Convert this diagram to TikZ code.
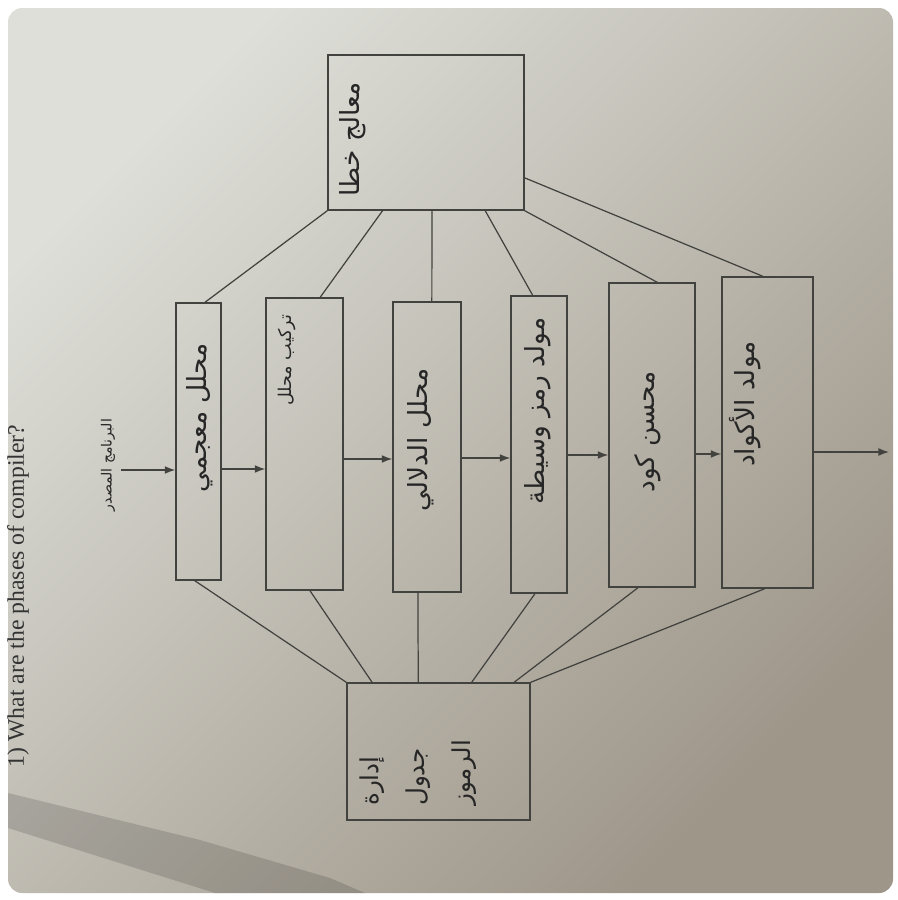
\documentclass[tikz,border=0pt]{standalone}
\usepackage{fontspec}
\setmainfont{Liberation Serif}
\newfontfamily\arabicfont[Script=Arabic]{DejaVu Sans}
\TeXXeTstate=1
\usetikzlibrary{arrows.meta,calc,fit}
\definecolor{paperlight}{RGB}{222,223,217}
\definecolor{paperdark}{RGB}{158,150,137}
\definecolor{ink}{RGB}{66,66,62}
\tikzset{
  phase/.style={draw=ink,line width=0.8pt,inner sep=0pt},
  link/.style={ink,line width=0.7pt},
  arr/.style={ink,line width=0.8pt,-{Latex[length=6pt,width=4.5pt]}},
  ar/.style={text=black!85,rotate=90,font=\arabicfont\fontsize{15}{18}\selectfont}
}
\newcommand{\rtl}[1]{\beginR #1\endR}

\begin{document}
\begin{tikzpicture}[x=0.02cm,y=-0.02cm]
\useasboundingbox (0,0) rectangle (897,900);
\fill[white] (0,0) rectangle (897,900);
\shade[top color=paperlight,bottom color=paperdark,shading angle=45,rounded corners=8pt] (8,8) rectangle (893,893);
\fill[black,opacity=.14] (8,793) -- (200,840) -- (330,878) -- (365,893) -- (215,893) -- (8,828) -- cycle;

\node[rotate=90,font=\fontsize{13.5}{16}\selectfont,text=black!80] (title) at (18,596) {1) What are the phases of compiler?};

% boxes
\node[phase,fit={(328,55) (524,210)}] (err) {};
\node[phase,fit={(176,303) (221,580)}] (lex) {};
\node[phase,fit={(266,298) (343,590)}] (syn) {};
\node[phase,fit={(393,302) (461,592)}] (sem) {};
\node[phase,fit={(511,296) (567,593)}] (inter) {};
\node[phase,fit={(609,283) (695,587)}] (opt) {};
\node[phase,fit={(722,277) (813,588)}] (gen) {};
\node[phase,fit={(347,683) (530,820)}] (sym) {};

% texts
\node[ar] (errT) at (353,139) {\rtl{معالج خطا}};
\node[ar] (lexT) at (200,418) {\rtl{محلل معجمي}};
\node[ar,font=\arabicfont\fontsize{10}{12}\selectfont] (synT) at (287,360) {\rtl{تركيب محلل}};
\node[ar] (semT) at (421,440) {\rtl{محلل الدلالي}};
\node[ar] (interT) at (538,411) {\rtl{مولد رمز وسيطة}};
\node[ar] (optT) at (648,432) {\rtl{محسن كود}};
\node[ar] (genT) at (745,404) {\rtl{مولد الأكواد}};
\node[ar,align=left,font=\arabicfont\fontsize{14}{26}\selectfont] (symT) at (418,773) {\rtl{إدارة}\\ \rtl{جدول}\\ \rtl{الرموز}};
\node[ar,font=\arabicfont\fontsize{8}{10}\selectfont] (src) at (108,465) {\rtl{البرنامج المصدر}};

% error handler links
\draw[link] (err.south west) -- ($(lex.north west)!.64!(lex.north east)$);
\draw[link] ($(err.south west)!.28!(err.south east)$) -- ($(syn.north west)!.70!(syn.north east)$);
\draw[link] ($(err.south west)!.53!(err.south east)$) -- ($(sem.north west)!.57!(sem.north east)$);
\draw[link] ($(err.south west)!.80!(err.south east)$) -- ($(inter.north west)!.39!(inter.north east)$);
\draw[link] (err.south east) -- ($(opt.north west)!.56!(opt.north east)$);
\draw[link] ($(err.south east)!.21!(err.north east)$) -- ($(gen.north west)!.45!(gen.north east)$);

% symbol table links
\draw[link] ($(lex.south west)!.42!(lex.south east)$) -- (sym.north west);
\draw[link] ($(syn.south west)!.57!(syn.south east)$) -- ($(sym.north west)!.14!(sym.north east)$);
\draw[link] ($(sem.south west)!.37!(sem.south east)$) -- ($(sym.north west)!.39!(sym.north east)$);
\draw[link] ($(inter.south west)!.43!(inter.south east)$) -- ($(sym.north west)!.68!(sym.north east)$);
\draw[link] ($(opt.south west)!.34!(opt.south east)$) -- ($(sym.north west)!.91!(sym.north east)$);
\draw[link] ($(gen.south west)!.47!(gen.south east)$) -- (sym.north east);

% flow
\coordinate (lexin) at ($(lex.west)+(0,28.5)$);
\draw[arr] (src.south |- lexin) -- (lexin);
\draw[arr] ($(lex.east)+(0,27.5)$) coordinate (a1) -- (a1 -| syn.west);
\draw[arr] ($(syn.east)+(0,15)$) coordinate (a2) -- (a2 -| sem.west);
\draw[arr] ($(sem.east)+(0,11)$) coordinate (a3) -- (a3 -| inter.west);
\draw[arr] ($(inter.east)+(0,10.5)$) coordinate (a4) -- (a4 -| opt.west);
\draw[arr] ($(opt.east)+(0,19)$) coordinate (a5) -- (a5 -| gen.west);
\coordinate (out) at (889,452);
\draw[arr] ($(gen.east)+(0,19.5)$) -- (out);

\end{tikzpicture}
\end{document}
